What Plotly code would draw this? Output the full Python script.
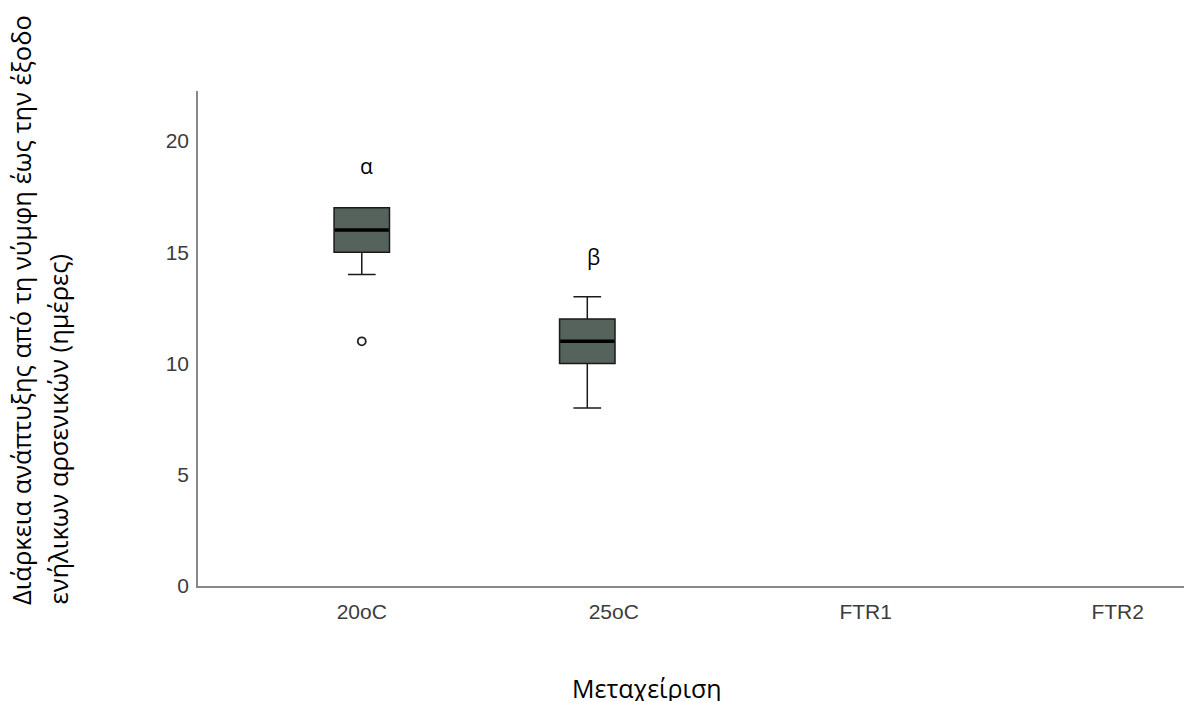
import plotly.graph_objects as go

# ---- data ----
categories = ["20oC", "25oC", "FTR1", "FTR2"]
box_groups = ["20oC", "25oC"]
q1 = [15, 10]
median = [16, 11]
q3 = [17, 12]
lower_whisker = [14, 8]
upper_whisker = [17, 13]
outlier_group = ["20oC"]
outlier_value = [11]
letters = ["α", "β"]
letter_y = [18.9, 14.8]
y_title_lines = ["Διάρκεια ανάπτυξης από τη νύμφη έως την έξοδο",
                 "ενήλικων αρσενικών (ημέρες)"]
x_title = "Μεταχείριση"

# layout-only positions (box centre on numeric axis, slight offset for 2nd group as in original)
cat_pos = {c: i for i, c in enumerate(categories)}
box_shift = {"20oC": 0.0, "25oC": -0.105}
letter_shift = {"20oC": 0.02, "25oC": -0.08}

BOX_FILL = "#56625c"
LINE = "#1a1a1a"
BOX_W = 0.22

fig = go.Figure()
for i, g in enumerate(box_groups):
    xp = cat_pos[g] + box_shift[g]
    fig.add_trace(go.Box(
        x=[xp], q1=[q1[i]], median=[median[i]], q3=[q3[i]],
        lowerfence=[lower_whisker[i]], upperfence=[upper_whisker[i]],
        width=BOX_W, whiskerwidth=0.5,
        fillcolor=BOX_FILL, line=dict(color=LINE, width=1.5),
        boxpoints=False, showlegend=False, hoverinfo="skip",
    ))
    # thick median line
    fig.add_trace(go.Scatter(
        x=[xp - BOX_W / 2 + 0.003, xp + BOX_W / 2 - 0.003], y=[median[i], median[i]],
        mode="lines", line=dict(color="#000000", width=3.5),
        showlegend=False, hoverinfo="skip",
    ))

fig.add_trace(go.Scatter(
    x=[cat_pos[g] + box_shift[g] for g in outlier_group], y=outlier_value,
    mode="markers",
    marker=dict(symbol="circle-open", size=8, color="#222222", line=dict(width=1.8)),
    showlegend=False, hoverinfo="skip",
))

for i, g in enumerate(box_groups):
    fig.add_annotation(x=cat_pos[g] + letter_shift[g], y=letter_y[i], text=letters[i],
                       showarrow=False, font=dict(family="Open Sans", size=21, color="#000"))

for line_text, xpos in zip(y_title_lines, [-0.178, -0.1408]):
    fig.add_annotation(
        xref="paper", yref="paper", x=xpos, y=-0.0424, xanchor="center", yanchor="bottom",
        text=line_text, textangle=-90, showarrow=False,
        font=dict(family="Open Sans", size=25.5, color="#000"),
    )
fig.add_annotation(
    xref="paper", yref="paper", x=0.4517, y=-0.206, xanchor="center", yanchor="middle",
    text=x_title, showarrow=False,
    font=dict(family="Open Sans", size=25, color="#000"),
)

fig.update_layout(
    width=1184, height=693,
    margin=dict(l=190, r=0, t=83, b=115),
    paper_bgcolor="white", plot_bgcolor="white",
    font=dict(family="Liberation Sans", size=21, color="#3c3c3c"),
    showlegend=False,
)
fig.update_xaxes(
    range=[-0.65, 3.295], tickmode="array",
    tickvals=list(range(len(categories))), ticktext=categories,
    showgrid=False, zeroline=False, showline=True, linecolor="#888888", linewidth=1.5,
    ticks="outside", ticklen=6, tickcolor="rgba(0,0,0,0)",
    tickfont=dict(family="Liberation Sans", size=21, color="#3c3c3c"),
)
fig.update_yaxes(
    range=[0, 22.25], tickvals=[0, 5, 10, 15, 20],
    showgrid=False, zeroline=False, showline=True, linecolor="#888888", linewidth=1.5,
    ticks="outside", ticklen=3, tickcolor="rgba(0,0,0,0)",
    tickfont=dict(family="Liberation Sans", size=21, color="#3c3c3c"),
)

fig.write_html("out.html")
